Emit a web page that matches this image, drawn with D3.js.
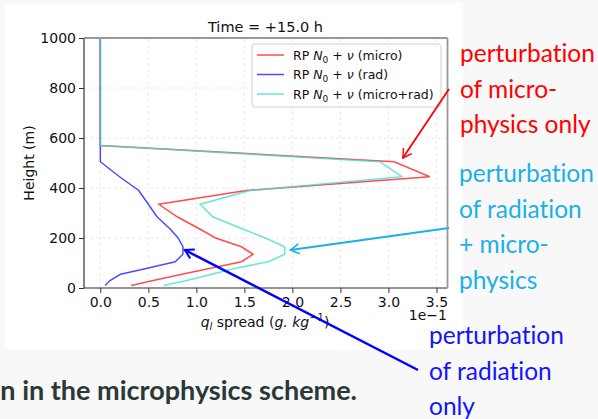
<!DOCTYPE html>
<html>
<head>
<meta charset="utf-8">
<script src="https://cdn.jsdelivr.net/npm/d3@7"></script>
<style>
  body { margin: 0; background: #f8f8f8; }
  svg { display: block; }
  text { font-variant-ligatures: none; }
</style>
</head>
<body>
<div id="chart"></div>
<script>
// model levels (m) shared by the three profiles
var heights = [10, 30, 55, 80, 105, 135, 165, 200, 235, 285, 335, 390, 445, 505, 570, 1000];

// q_l spread, in units of 1e-1 g/kg
var microValues    = [0.32, 0.55, 0.85, 1.16, 1.47, 1.59, 1.47, 1.20, 1.04, 0.80, 0.61, 1.52, 3.43, 3.06, 0.0, 0.0];
var radValues      = [0.05, 0.10, 0.21, 0.50, 0.78, 0.86, 0.86, 0.81, 0.73, 0.59, 0.50, 0.40, 0.20, 0.0, 0.0, 0.0];
var microRadValues = [0.66, 0.90, 1.16, 1.42, 1.75, 1.92, 1.92, 1.72, 1.49, 1.17, 1.04, 1.56, 3.14, 2.91, 0.0, 0.0];

var seriesNames  = ["micro", "rad", "micro+rad"];
var seriesColors = ["rgba(255,0,0,0.7)", "rgba(0,0,255,0.7)", "rgba(64,224,208,0.8)"];

var xTicks = [0, 0.5, 1.0, 1.5, 2.0, 2.5, 3.0, 3.5];
var yTicks = [0, 200, 400, 600, 800, 1000];

var width = 598, height = 419;

var svg = d3.select("#chart").append("svg")
    .attr("width", width)
    .attr("height", height)
    .style("font-family", "DejaVu Sans, sans-serif");

// white box of the pasted figure
svg.append("rect")
    .attr("x", 5).attr("y", 3)
    .attr("width", 458).attr("height", 347)
    .attr("fill", "#fff");

var x = d3.scaleLinear().domain([-0.17, 3.615]).range([84, 447.5]);
var y = d3.scaleLinear().domain([0, 1000]).range([288, 38]);

// grid
svg.append("g").selectAll("line")
    .data(xTicks).enter().append("line")
    .attr("x1", function(d) { return x(d); }).attr("x2", function(d) { return x(d); })
    .attr("y1", y(0)).attr("y2", y(1000))
    .attr("stroke", "#e2e2e2").attr("stroke-width", 0.8).attr("stroke-dasharray", "3,3");
svg.append("g").selectAll("line")
    .data(yTicks).enter().append("line")
    .attr("x1", x.range()[0]).attr("x2", x.range()[1])
    .attr("y1", function(d) { return y(d); }).attr("y2", function(d) { return y(d); })
    .attr("stroke", "#e2e2e2").attr("stroke-width", 0.8).attr("stroke-dasharray", "3,3");

// profiles
var line = d3.line()
    .x(function(d) { return x(d[0]); })
    .y(function(d) { return y(d[1]); });

[microValues, radValues, microRadValues].forEach(function(vals, i) {
    svg.append("path")
        .datum(vals.map(function(v, k) { return [v, heights[k]]; }))
        .attr("d", line)
        .attr("fill", "none")
        .attr("stroke", seriesColors[i])
        .attr("stroke-width", 1.5);
});

// axes
var xAxis = svg.append("g")
    .attr("transform", "translate(0," + y(0) + ")")
    .call(d3.axisBottom(x).tickValues(xTicks).tickFormat(d3.format(".1f")).tickSize(5).tickPadding(4));
var yAxis = svg.append("g")
    .attr("transform", "translate(" + x.range()[0] + ",0)")
    .call(d3.axisLeft(y).tickValues(yTicks).tickFormat(d3.format("d")).tickSize(5).tickPadding(3));
[xAxis, yAxis].forEach(function(g) {
    g.select(".domain").remove();
    g.selectAll("text").attr("font-size", 14).attr("fill", "#111").style("font-family", "DejaVu Sans");
    g.selectAll("line").attr("stroke", "#333");
});

// spines
svg.append("line").attr("x1", 84).attr("x2", 84).attr("y1", 38).attr("y2", 288).attr("stroke", "#333").attr("stroke-width", 1.2);
svg.append("line").attr("x1", 84).attr("x2", 447.5).attr("y1", 288).attr("y2", 288).attr("stroke", "#333").attr("stroke-width", 1.2);
svg.append("line").attr("x1", 84).attr("x2", 447.5).attr("y1", 38).attr("y2", 38).attr("stroke", "#999").attr("stroke-width", 1.8);
svg.append("line").attr("x1", 447.5).attr("x2", 447.5).attr("y1", 38).attr("y2", 288).attr("stroke", "#999").attr("stroke-width", 1.8);

// title and labels
svg.append("text").attr("x", 265.5).attr("y", 32).attr("text-anchor", "middle")
    .attr("font-size", 14.5).attr("fill", "#111").text("Time = +15.0 h");

svg.append("text").attr("transform", "translate(34,163) rotate(-90)")
    .attr("text-anchor", "middle").attr("font-size", 14).attr("fill", "#111").text("Height (m)");

var xl = svg.append("text").attr("x", 265).attr("y", 327).attr("text-anchor", "middle")
    .attr("font-size", 14).attr("fill", "#111");
xl.append("tspan").attr("font-style", "italic").text("q");
xl.append("tspan").attr("font-style", "italic").attr("font-size", 10).attr("dy", 3).text("l");
xl.append("tspan").attr("dy", -3).text(" spread (");
xl.append("tspan").attr("font-style", "italic").text("g. kg");
xl.append("tspan").attr("font-size", 10).attr("dy", -6).text("\u22121");
xl.append("tspan").attr("dy", 6).text(")");

svg.append("text").attr("x", 447).attr("y", 320).attr("text-anchor", "end")
    .attr("font-size", 14).attr("fill", "#111").text("1e\u22121");

// legend
var legend = svg.append("g");
legend.append("rect").attr("x", 252).attr("y", 44).attr("width", 189).attr("height", 63)
    .attr("rx", 3).attr("fill", "rgba(255,255,255,0.8)").attr("stroke", "#d0d0d0");
seriesNames.forEach(function(name, i) {
    var ly = 55 + i * 19.5;
    legend.append("line").attr("x1", 257).attr("x2", 284).attr("y1", ly).attr("y2", ly)
        .attr("stroke", seriesColors[i]).attr("stroke-width", 1.5);
    var t = legend.append("text").attr("x", 293).attr("y", ly + 4.5)
        .attr("font-size", 12.5).attr("fill", "#111");
    t.append("tspan").text("RP ");
    t.append("tspan").attr("font-style", "italic").text("N");
    t.append("tspan").attr("font-size", 9).attr("dy", 3).text("0");
    t.append("tspan").attr("dy", -3).text(" + ");
    t.append("tspan").attr("font-style", "italic").text("\u03bd");
    t.append("tspan").text(" (" + name + ")");
});

// slide annotations
var notes = [
    { lines: ["perturbation", "of micro-", "physics only"], color: "#ff0000", x: 460, y: 62 },
    { lines: ["perturbation", "of radiation", "+ micro-", "physics"], color: "#1ab0e8", x: 459, y: 182 },
    { lines: ["perturbation", "of radiation", "only"], color: "#1414ff", x: 429, y: 344 }
];
notes.forEach(function(n) {
    n.lines.forEach(function(s, k) {
        svg.append("text").attr("x", n.x).attr("y", n.y + k * 35.5)
            .attr("font-family", "Lato, sans-serif").attr("font-size", 24.5)
            .attr("fill", n.color).text(s);
    });
});

// arrows: start in page pixels, tip in data coordinates
var arrows = [
    { from: [449, 89],  to: [3.15, 520], color: "#ff0000", w: 1.8 },
    { from: [449, 228], to: [1.98, 152], color: "#1ab0e8", w: 2 },
    { from: [418, 370], to: [0.88, 152], color: "#0000ff", w: 2.5 }
];
arrows.forEach(function(a) {
    var x0 = a.from[0], y0 = a.from[1], x1 = x(a.to[0]), y1 = y(a.to[1]);
    var ang = Math.atan2(y1 - y0, x1 - x0), len = 10, spread = Math.PI / 6;
    svg.append("line").attr("x1", x0).attr("y1", y0).attr("x2", x1).attr("y2", y1)
        .attr("stroke", a.color).attr("stroke-width", a.w);
    var p = "M" + (x1 - len * Math.cos(ang - spread)) + "," + (y1 - len * Math.sin(ang - spread)) +
            "L" + x1 + "," + y1 +
            "L" + (x1 - len * Math.cos(ang + spread)) + "," + (y1 - len * Math.sin(ang + spread));
    svg.append("path").attr("d", p).attr("fill", "none")
        .attr("stroke", a.color).attr("stroke-width", a.w * 0.8);
});

// caption fragment of the slide below the figure
svg.append("text").attr("x", 357).attr("y", 400).attr("text-anchor", "end")
    .attr("font-family", "Lato, sans-serif").attr("font-weight", "bold").attr("font-size", 27)
    .attr("fill", "#2b3838").text("n in the microphysics scheme.");
</script>
</body>
</html>
